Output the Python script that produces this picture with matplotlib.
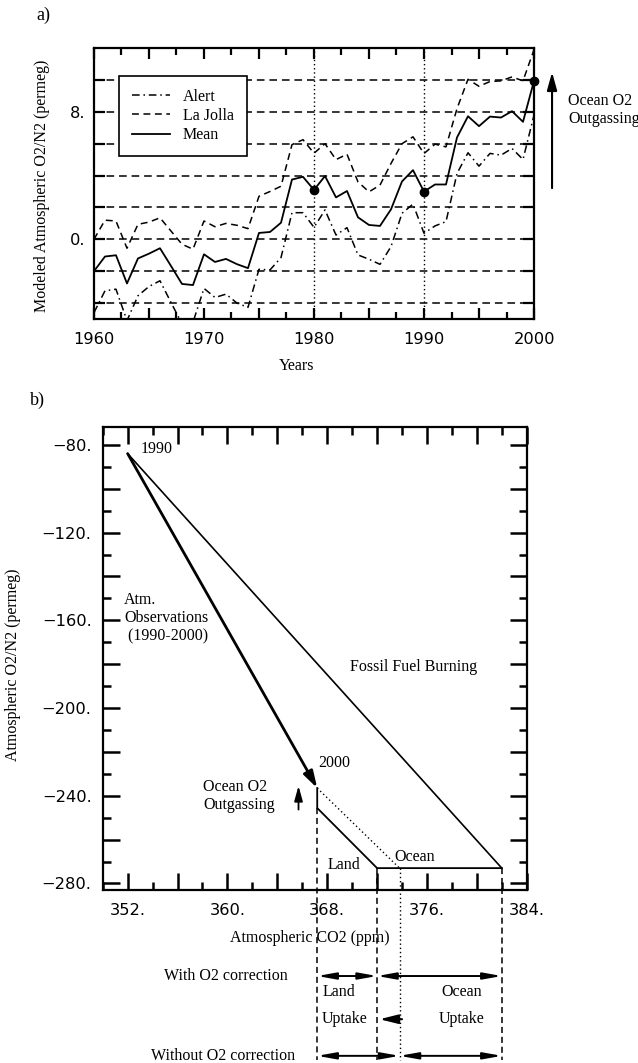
import numpy as np
import matplotlib
matplotlib.use('Agg')
import matplotlib.pyplot as plt
from matplotlib.ticker import MultipleLocator, FuncFormatter

plt.rcParams['font.family'] = ['Liberation Serif', 'DejaVu Serif']
plt.rcParams['font.size'] = 11.5

# ---- panel a: modeled O2/N2 anomalies
years = np.arange(1960, 2001)
alert = [-4.6, -3.23, -3.13, -5.1, -3.54, -2.96, -2.6, -3.96, -5.3, -5.2,
         -3.08, -3.65, -3.44, -4.0, -4.27, -1.88, -1.92, -1.15, 1.67, 1.67,
         0.75, 1.84, 0.27, 0.73, -0.98, -1.25, -1.57, -0.46, 1.63, 2.21,
         0.38, 0.84, 1.11, 4.13, 5.43, 4.59, 5.39, 5.28, 5.7, 5.01, 7.79]
la_jolla = [0.0, 1.2, 1.15, -0.56, 0.94, 1.08, 1.35, 0.52, -0.31, -0.62,
            1.15, 0.79, 1.0, 0.88, 0.67, 2.7, 3.0, 3.33, 5.94, 6.25,
            5.4, 6.0, 5.0, 5.34, 3.6, 2.98, 3.4, 4.76, 6.0, 6.43,
            5.38, 5.97, 5.8, 8.2, 10.04, 9.6, 9.9, 9.94, 10.19, 9.94, 11.9]
mean = [-2.0, -1.08, -1.0, -2.77, -1.2, -0.9, -0.56, -1.67, -2.8, -2.87,
        -0.94, -1.42, -1.23, -1.56, -1.81, 0.4, 0.46, 1.04, 3.75, 3.92,
        3.1, 3.97, 2.63, 3.03, 1.38, 0.9, 0.84, 1.88, 3.63, 4.34,
        2.99, 3.44, 3.44, 6.39, 7.72, 7.1, 7.7, 7.64, 8.04, 7.37, 9.94]
marked_years = [1980, 1990, 2000]
ref_years = [1980, 1990]
grid_levels = np.arange(-4, 11, 2)
labelled_levels = [0, 8]

# ---- panel b: O2/N2 vs CO2 budget diagram
co2_1990, o2_1990 = 352.0, -84.0
co2_2000, o2_obs_2000 = 367.2, -236.5
o2_corr_2000 = -245.6
co2_land, co2_ocean_nocorr, co2_fossil = 372.0, 373.8, 382.0
o2_end = -273.0
y_with, y_shift, y_without, y_bottom = -322.2, -341.9, -358.6, -360.5

fig = plt.figure(figsize=(6.38, 10.63), dpi=100)
ax1 = fig.add_axes([0.1473, 0.6999, 0.6897, 0.2549])
ax2 = fig.add_axes([0.161, 0.1627, 0.6646, 0.4353])

# ---------------- a)
for lv in grid_levels:
    ax1.axhline(lv, color='k', ls=(0, (5, 3.2)), lw=1.1, zorder=1)
for yr in ref_years:
    ax1.axvline(yr, color='k', ls=(0, (1, 2)), lw=1.0, zorder=1)

ax1.plot(years, alert, color='k', ls=(0, (5, 2.5, 1, 2.5)), lw=1.1, label='Alert')
ax1.plot(years, la_jolla, color='k', ls=(0, (4.5, 3)), lw=1.1, label='La Jolla')
ax1.plot(years, mean, color='k', ls='-', lw=1.3, label='Mean')
idx = [list(years).index(y) for y in marked_years]
ax1.plot(marked_years, [mean[i] for i in idx], 'o', color='k', ms=6,
         clip_on=False, zorder=5)

leg = ax1.legend(loc='upper left', bbox_to_anchor=(0.057, 0.897), borderaxespad=0,
                 fancybox=False, edgecolor='k', framealpha=1, handlelength=2.4,
                 handletextpad=0.8, labelspacing=0.2, borderpad=0.8, fontsize=11.5)
leg.get_frame().set_linewidth(1.2)

ax1.set_xlim(1960, 2000)
ax1.set_ylim(-5, 12)
ax1.xaxis.set_major_locator(MultipleLocator(5))
ax1.xaxis.set_minor_locator(MultipleLocator(2.5))
ax1.xaxis.set_major_formatter(FuncFormatter(lambda v, p: f'{v:.0f}' if round(v) % 10 == 0 else ''))
ax1.set_yticks(grid_levels)
ax1.set_yticklabels([f'{v}.' if v in labelled_levels else '' for v in grid_levels])
ax1.tick_params(which='both', direction='in', top=True, right=True, width=1.6,
                labelfontfamily='DejaVu Sans', labelsize=11.7)
ax1.tick_params(axis='x', which='major', length=8, pad=9)
ax1.tick_params(axis='x', which='minor', length=5)
ax1.tick_params(axis='y', which='major', length=8, pad=6)
for s in ax1.spines.values():
    s.set_linewidth(1.6)

ax1.set_xlabel('Years')
ax1.xaxis.set_label_coords(0.461, -0.144)
ax1.set_ylabel('Modeled Atmospheric O2/N2 (permeg)')
ax1.yaxis.set_label_coords(-0.1, 0.49)

ax1.annotate('', xy=(1.041, 0.911), xytext=(1.041, 0.483), xycoords='axes fraction',
             arrowprops=dict(arrowstyle='-|>,head_length=0.9,head_width=0.25', lw=1.5,
                             color='k', mutation_scale=12, shrinkA=0, shrinkB=0),
             annotation_clip=False)
ax1.text(1.077, 0.771, 'Ocean O2\nOutgassing', transform=ax1.transAxes,
         ha='left', va='center', linespacing=1.1, clip_on=False)

# ---------------- b)
ax2.plot([co2_1990, co2_fossil], [o2_1990, o2_end], 'k-', lw=1.2)
ax2.annotate('', xy=(co2_2000, o2_obs_2000), xytext=(co2_1990, o2_1990),
             arrowprops=dict(arrowstyle='-|>,head_length=1.0,head_width=0.3', lw=2.0,
                             color='k', mutation_scale=10, shrinkA=0, shrinkB=0))
ax2.plot([co2_2000, co2_2000, co2_land, co2_fossil],
         [o2_obs_2000, o2_corr_2000, o2_end, o2_end], 'k-', lw=1.3)
ax2.plot([co2_2000, co2_ocean_nocorr], [o2_obs_2000, o2_end], 'k', ls=(0, (1, 2)), lw=1.0)

dash = (0, (4, 2.5))
ax2.plot([co2_2000, co2_2000], [o2_corr_2000, y_bottom], 'k', ls=dash, lw=1.1, clip_on=False)
ax2.plot([co2_land, co2_land], [o2_end, y_bottom], 'k', ls=dash, lw=1.1, clip_on=False)
ax2.plot([co2_fossil, co2_fossil], [o2_end, y_bottom], 'k', ls=dash, lw=1.1, clip_on=False)
ax2.plot([co2_ocean_nocorr, co2_ocean_nocorr], [o2_end, y_bottom], 'k', ls=(0, (1, 2)),
         lw=1.0, clip_on=False)

# small up arrow: ocean outgassing
ax2.annotate('', xy=(365.7, -235.5), xytext=(365.7, -246.3),
             arrowprops=dict(arrowstyle='-|>,head_length=0.9,head_width=0.25', lw=1.3,
                             color='k', mutation_scale=10, shrinkA=0, shrinkB=0))

dbl = dict(arrowstyle='<|-|>,head_length=1.0,head_width=0.18', lw=1.4, color='k',
           mutation_scale=11, shrinkA=0, shrinkB=0)
for x0, x1, yy in [(co2_2000, co2_land, y_with), (co2_land, co2_fossil, y_with),
                   (co2_2000, co2_ocean_nocorr, y_without),
                   (co2_ocean_nocorr, co2_fossil, y_without)]:
    ax2.annotate('', xy=(x1, yy), xytext=(x0, yy), arrowprops=dbl, annotation_clip=False)
ax2.annotate('', xy=(co2_land + 0.2, y_shift), xytext=(co2_ocean_nocorr + 0.2, y_shift),
             arrowprops=dict(arrowstyle='-|>,head_length=1.0,head_width=0.25', lw=1.5,
                             color='k', mutation_scale=11, shrinkA=0, shrinkB=0),
             annotation_clip=False)

ax2.text(353.05, -82.1, '1990', ha='left', va='center')
ax2.text(367.3, -224.9, '2000', ha='left', va='center')
ax2.text(351.73, -159.0, 'Atm.\nObservations\n (1990-2000)', ha='left', va='center',
         linespacing=1.15)
ax2.text(374.9, -181.2, 'Fossil Fuel Burning', ha='center', va='center')
ax2.text(358.05, -240.0, 'Ocean O2\nOutgassing', ha='left', va='center', linespacing=1.15)
ax2.text(368.0, -271.4, 'Land', ha='left', va='center')
ax2.text(373.4, -267.9, 'Ocean', ha='left', va='center')

ax2.text(364.8, y_with, 'With O2 correction', ha='right', va='center', clip_on=False)
ax2.text(365.4, y_without, 'Without O2 correction', ha='right', va='center', clip_on=False)
ax2.text(367.6, -329.5, 'Land', ha='left', va='center', clip_on=False)
ax2.text(367.6, y_shift, 'Uptake', ha='left', va='center', clip_on=False)
ax2.text(378.8, -329.5, 'Ocean', ha='center', va='center', clip_on=False)
ax2.text(378.8, y_shift, 'Uptake', ha='center', va='center', clip_on=False)

ax2.set_xlim(350, 384)
ax2.set_ylim(-283, -72)
ax2.xaxis.set_major_locator(MultipleLocator(4))
ax2.xaxis.set_minor_locator(MultipleLocator(2))
ax2.yaxis.set_major_locator(MultipleLocator(20))
ax2.yaxis.set_minor_locator(MultipleLocator(10))
ax2.xaxis.set_major_formatter(FuncFormatter(
    lambda v, p: f'{v:.0f}.' if (round(v) - 352) % 8 == 0 else ''))
ax2.yaxis.set_major_formatter(FuncFormatter(
    lambda v, p: f'{v:.0f}.'.replace('-', '\u2212') if round(v) % 40 == 0 else ''))
ax2.tick_params(which='both', direction='in', top=True, right=True, width=1.8,
                labelfontfamily='DejaVu Sans', labelsize=11.7)
ax2.tick_params(which='major', length=12)
ax2.tick_params(which='minor', length=6)
ax2.tick_params(axis='x', pad=9)
ax2.tick_params(axis='y', pad=8)
for s in ax2.spines.values():
    s.set_linewidth(1.6)

ax2.set_xlabel('Atmospheric CO2 (ppm)')
ax2.xaxis.set_label_coords(0.489, -0.0865)
ax2.set_ylabel('Atmospheric O2/N2 (permeg)')
ax2.yaxis.set_label_coords(-0.193, 0.486)

fig.text(43 / 638, 1 - 15 / 1063, 'a)', ha='center', va='center', fontsize=13)
fig.text(37 / 638, 1 - 400 / 1063, 'b)', ha='center', va='center', fontsize=13)

fig.savefig('out.png', dpi=100)
